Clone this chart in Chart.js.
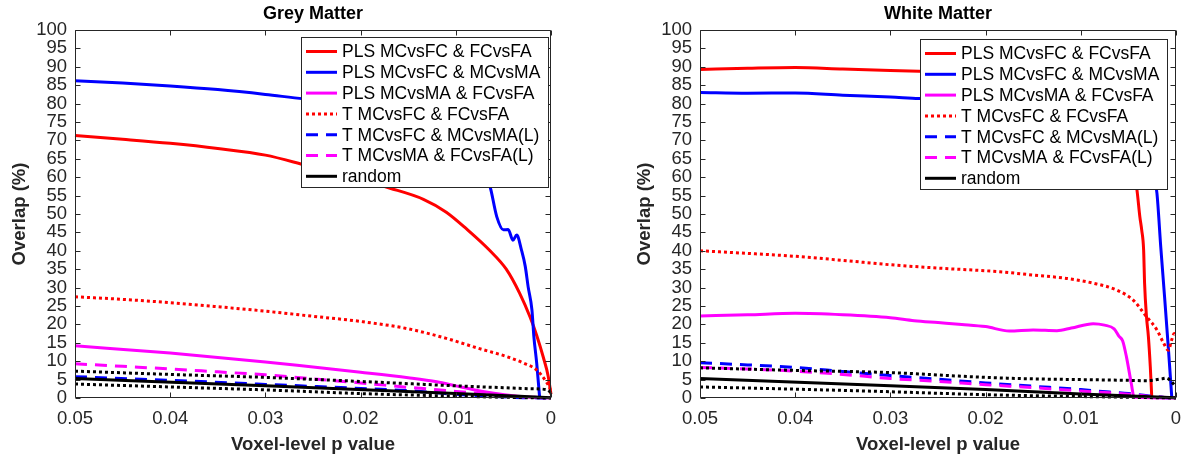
<!DOCTYPE html>
<html>
<head>
<meta charset="utf-8">
<script src="https://cdn.jsdelivr.net/npm/chart.js@4.4.1/dist/chart.umd.min.js"></script>
<style>
  html, body { margin: 0; padding: 0; background: #fff; }
  body { width: 1184px; height: 459px; position: relative; overflow: hidden; }
  canvas { position: absolute; top: 0; }
  #gm { left: 0; }
  #wm { left: 625px; }
</style>
</head>
<body>
<canvas id="gm" width="592" height="459"></canvas>
<canvas id="wm" width="559" height="459"></canvas>
<script>
const xTicks = [0.05, 0.04, 0.03, 0.02, 0.01, 0];
const yTicks = [0, 5, 10, 15, 20, 25, 30, 35, 40, 45, 50, 55, 60, 65, 70, 75, 80, 85, 90, 95, 100];
const panelTitles = ["Grey Matter", "White Matter"];
const xTitle = "Voxel-level p value";
const yTitle = "Overlap (%)";
const legendLabels = [
  "PLS MCvsFC & FCvsFA",
  "PLS MCvsFC & MCvsMA",
  "PLS MCvsMA & FCvsFA",
  "T MCvsFC & FCvsFA",
  "T MCvsFC & MCvsMA(L)",
  "T MCvsMA & FCvsFA(L)",
  "random"
];

// [p value, overlap %]
const gmPlsFcFa = [[0.05,71.3],[0.045,70.3],[0.04,69.2],[0.035,67.8],[0.03,66.0],[0.026,63.4],[0.022,60.6],[0.0169,57.0],[0.0134,54.0],[0.011,50.5],[0.0089,46.0],[0.0064,40.0],[0.0047,35.0],[0.0033,28.5],[0.0022,22.0],[0.0015,17.0],[0.0008,11.0],[0.0003,6.0],[0,1.0]];
const gmPlsFcMa = [[0.05,86.2],[0.045,85.6],[0.04,84.8],[0.035,83.8],[0.03,82.5],[0.026,81.3],[0.02,80.0],[0.015,78.5],[0.011,75.5],[0.0085,69.0],[0.0064,57.4],[0.0057,49.3],[0.005,45.7],[0.0045,45.8],[0.004,42.9],[0.0036,44.3],[0.0031,40.2],[0.0027,35.7],[0.0024,30.2],[0.002,23.9],[0.0018,16.7],[0.0015,9.4],[0.0012,0.3]];
const gmPlsMaFa = [[0.05,14.2],[0.04,12.2],[0.03,9.8],[0.025,8.4],[0.02,7.0],[0.015,5.5],[0.012,4.4],[0.01,3.3],[0.008,2.2],[0.006,1.3],[0.004,0.6],[0.002,0.2],[0,0]];
const gmTFcFa = [[0.05,27.5],[0.045,26.8],[0.04,25.9],[0.035,24.8],[0.03,23.6],[0.025,22.2],[0.02,20.8],[0.015,18.8],[0.011,16.2],[0.0075,13.4],[0.0047,11.3],[0.0029,9.5],[0.0015,7.6],[0.00045,4.2],[0.0001,2.5],[0,1.5]];
const gmTFcMa = [[0.05,5.8],[0.04,4.8],[0.03,3.7],[0.02,2.6],[0.015,2.0],[0.012,1.4],[0.01,1.0],[0.006,0.4],[0.003,0.1],[0,0]];
const gmTMaFa = [[0.05,9.3],[0.045,8.6],[0.04,7.9],[0.035,7.1],[0.03,6.3],[0.025,5.2],[0.02,4.1],[0.015,2.9],[0.01,1.8],[0.007,1.1],[0.004,0.5],[0.002,0.2],[0,0]];
const gmRandom = [[0.05,5.3],[0.03,3.3],[0.01,1.2],[0,0.1]];
const gmRandHigh = [[0.05,7.3],[0.04,6.4],[0.03,5.6],[0.02,4.5],[0.015,3.9],[0.01,3.3],[0.005,2.8],[0.002,2.5],[0.0005,2.3],[0,1.5]];
const gmRandLow = [[0.05,3.8],[0.04,3.0],[0.03,2.2],[0.02,1.2],[0.01,0.5],[0.005,0.2],[0,0]];

// same for the white matter panel
const wmPlsFcFa = [[0.05,89.3],[0.045,89.6],[0.04,89.8],[0.035,89.4],[0.03,89.0],[0.026,88.7],[0.02,88.3],[0.012,87.8],[0.007,86.5],[0.0055,78.0],[0.0047,65.0],[0.0041,56.5],[0.0038,49.3],[0.0036,45.6],[0.0034,40.2],[0.0033,31.2],[0.0031,22.1],[0.0029,16.7],[0.0027,8.5],[0.00255,0.4]];
const wmPlsFcMa = [[0.05,83.0],[0.045,82.8],[0.04,82.9],[0.035,82.3],[0.03,81.8],[0.027,81.4],[0.02,81.0],[0.01,79.5],[0.005,77.0],[0.003,70.0],[0.0024,62.0],[0.002,55.6],[0.0016,41.0],[0.0012,27.5],[0.0008,13.5],[0.00045,0.4]];
const wmPlsMaFa = [[0.05,22.3],[0.045,22.6],[0.04,23.0],[0.035,22.6],[0.03,21.8],[0.0275,21.0],[0.025,20.5],[0.0225,20.0],[0.02,19.4],[0.0175,18.2],[0.015,18.5],[0.0125,18.3],[0.011,19.0],[0.0087,20.2],[0.0075,19.8],[0.0065,18.8],[0.006,16.8],[0.0056,15.5],[0.0052,11.1],[0.0047,4.0],[0.0044,0.2],[0,0]];
const wmTFcFa = [[0.05,40.0],[0.045,39.3],[0.04,38.5],[0.035,37.4],[0.03,36.2],[0.025,35.3],[0.0185,34.3],[0.015,33.4],[0.0115,32.5],[0.0087,31.2],[0.0062,29.3],[0.0045,26.6],[0.0031,22.1],[0.002,18.5],[0.0013,14.9],[0.0008,13.0],[0.00045,15.8],[0.0002,17.5],[0,16.5]];
const wmTFcMa = [[0.05,9.6],[0.045,9.0],[0.04,8.3],[0.035,7.2],[0.03,6.1],[0.025,5.1],[0.02,4.1],[0.015,3.2],[0.01,2.3],[0.007,1.6],[0.005,1.2],[0.003,0.6],[0.002,0.4],[0.001,0.1],[0,0]];
const wmTMaFa = [[0.05,8.3],[0.045,7.9],[0.04,7.3],[0.035,6.4],[0.03,5.3],[0.025,4.5],[0.02,3.6],[0.015,2.8],[0.01,1.9],[0.007,1.4],[0.005,1.0],[0.003,0.5],[0.002,0.3],[0,0]];
const wmRandom = [[0.05,5.3],[0.03,3.3],[0.02,2.3],[0.01,1.1],[0,0.1]];
const wmRandHigh = [[0.05,8.2],[0.04,7.5],[0.03,6.9],[0.02,5.6],[0.015,5.2],[0.01,5.0],[0.005,4.8],[0.003,4.7],[0.0015,5.2],[0.001,5.4],[0.0005,4.5],[0,3.0]];
const wmRandLow = [[0.05,3.0],[0.04,2.4],[0.03,1.7],[0.02,0.9],[0.01,0.4],[0.005,0.2],[0,0]];

const seriesStyles = [
  { color: "#ff0000", dash: [] },
  { color: "#0000ff", dash: [] },
  { color: "#ff00ff", dash: [] },
  { color: "#ff0000", dash: [3, 3] },
  { color: "#0000ff", dash: [12, 8] },
  { color: "#ff00ff", dash: [12, 8] },
  { color: "#000000", dash: [] },
  { color: "#000000", dash: [3, 3] },
  { color: "#000000", dash: [3, 3] }
];

const FONT = "'Liberation Sans', Arial, Helvetica, sans-serif";
const INK = "#262626";

// matlab style box with inward ticks on all four sides
const axesBox = {
  id: "axesBox",
  afterDatasetsDraw(chart) {
    const { ctx, chartArea: a, scales } = chart;
    const L = Math.round(a.left) + 0.5, R = Math.round(a.right) - 0.5;
    const T = Math.round(a.top) + 0.5, B = Math.round(a.bottom) - 0.5;
    ctx.save();
    ctx.strokeStyle = INK;
    ctx.lineWidth = 1;
    ctx.beginPath();
    ctx.rect(L, T, R - L, B - T);
    xTicks.forEach(v => {
      const px = Math.round(scales.x.getPixelForValue(v)) + 0.5;
      ctx.moveTo(px, B); ctx.lineTo(px, B - 5);
      ctx.moveTo(px, T); ctx.lineTo(px, T + 5);
    });
    yTicks.forEach(v => {
      const py = Math.round(scales.y.getPixelForValue(v)) + 0.5;
      ctx.moveTo(L, py); ctx.lineTo(L + 5, py);
      ctx.moveTo(R, py); ctx.lineTo(R - 5, py);
    });
    ctx.stroke();
    ctx.restore();
  }
};

const legendBox = {
  id: "legendBox",
  afterDraw(chart, args, opts) {
    const { ctx, chartArea: a } = chart;
    ctx.save();
    ctx.font = "17.5px " + FONT;
    const textW = Math.max(...legendLabels.map(l => ctx.measureText(l).width));
    const w = Math.round(41 + textW + 8);
    const h = 150;
    const right = Math.round(a.right - opts.dx);
    const top = Math.round(a.top + opts.dy);
    const left = right - w;
    ctx.fillStyle = "#fff";
    ctx.fillRect(left, top, w, h);
    ctx.strokeStyle = INK;
    ctx.lineWidth = 1;
    ctx.strokeRect(left + 0.5, top + 0.5, w, h);
    ctx.textBaseline = "middle";
    legendLabels.forEach((label, i) => {
      const ds = chart.data.datasets[i];
      const y = top + 14.5 + i * 20.8;
      ctx.strokeStyle = ds.borderColor;
      ctx.lineWidth = 3;
      ctx.setLineDash(ds.borderDash);
      ctx.beginPath();
      ctx.moveTo(left + 5, y);
      ctx.lineTo(left + 36, y);
      ctx.stroke();
      ctx.setLineDash([]);
      ctx.fillStyle = "#000";
      ctx.fillText(label, left + 41, y + 1);
    });
    ctx.restore();
  }
};

function makeChart(id, title, series, rightPad, legendPos) {
  const datasets = series.map((s, i) => ({
    label: legendLabels[i] || "",
    data: s.map(([p, v]) => ({ x: p, y: v })),
    borderColor: seriesStyles[i].color,
    borderDash: seriesStyles[i].dash,
    borderWidth: 3,
    pointRadius: 0,
    fill: false,
    cubicInterpolationMode: "monotone",
    clip: 3,
    order: -i
  }));

  return new Chart(document.getElementById(id), {
    type: "line",
    data: { datasets },
    plugins: [axesBox, legendBox],
    options: {
      responsive: false,
      animation: false,
      devicePixelRatio: 1,
      layout: { padding: { left: 0, right: rightPad, top: 0, bottom: 0 } },
      plugins: {
        legend: { display: false },
        tooltip: { enabled: false },
        title: {
          display: true,
          text: title,
          fullSize: false,
          color: "#000",
          font: { family: FONT, size: 18, weight: "bold" },
          padding: { top: 3, bottom: 5.4 }
        },
        legendBox: legendPos
      },
      scales: {
        x: {
          type: "linear",
          reverse: true,
          min: 0,
          max: 0.05,
          afterBuildTicks: s => { s.ticks = xTicks.map(v => ({ value: v })); },
          afterFit: s => { s.height = 61; s.paddingLeft = 0; s.paddingRight = 0; },
          grid: { display: false, drawTicks: false },
          border: { display: false },
          ticks: {
            color: INK,
            font: { family: FONT, size: 18.5 },
            padding: 10,
            maxRotation: 0,
            autoSkip: false,
            callback: v => String(v)
          },
          title: {
            display: true,
            text: xTitle,
            color: INK,
            font: { family: FONT, size: 18.5, weight: "bold" },
            padding: { top: 0, bottom: 3 }
          }
        },
        y: {
          type: "linear",
          min: 0,
          max: 100,
          afterBuildTicks: s => { s.ticks = yTicks.map(v => ({ value: v })); },
          afterFit: s => { s.width = 75; s.paddingTop = 0; s.paddingBottom = 0; },
          grid: { display: false, drawTicks: false },
          border: { display: false },
          ticks: {
            color: INK,
            font: { family: FONT, size: 18.5 },
            padding: 8,
            autoSkip: false
          },
          title: {
            display: true,
            text: yTitle,
            color: INK,
            font: { family: FONT, size: 18.5, weight: "bold" },
            padding: { top: 9, bottom: 0 }
          }
        }
      }
    }
  });
}

makeChart("gm", panelTitles[0],
  [gmPlsFcFa, gmPlsFcMa, gmPlsMaFa, gmTFcFa, gmTFcMa, gmTMaFa, gmRandom, gmRandHigh, gmRandLow],
  41, { dx: 3, dy: 7 });

makeChart("wm", panelTitles[1],
  [wmPlsFcFa, wmPlsFcMa, wmPlsMaFa, wmTFcFa, wmTFcMa, wmTMaFa, wmRandom, wmRandHigh, wmRandLow],
  8, { dx: 9, dy: 9 });
</script>
</body>
</html>
